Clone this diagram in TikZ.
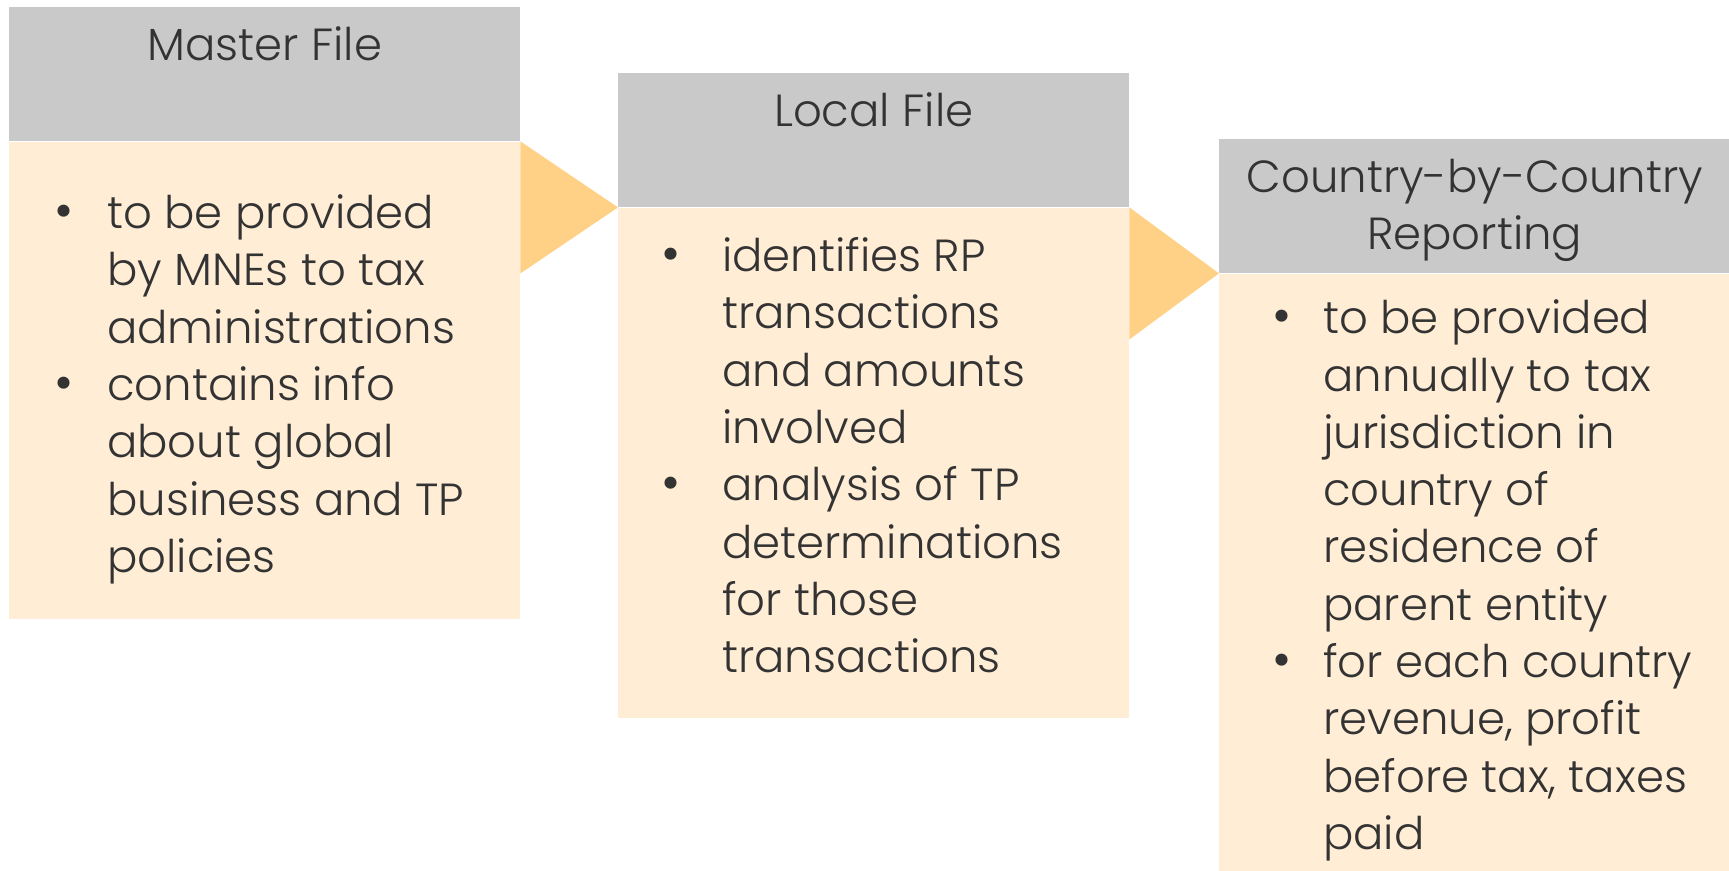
\documentclass[tikz,border=0pt]{standalone}
\usepackage{fontspec}
\setmainfont{Poppins}[UprightFont=* Light]
\usepackage{tikz}
\usetikzlibrary{positioning}

\definecolor{headgray}{RGB}{201,201,201}
\definecolor{bodycream}{RGB}{255,237,213}
\definecolor{chevorange}{RGB}{255,209,134}
\definecolor{inkgray}{RGB}{51,51,51}

\newcommand{\dotmark}{{\fontsize{52}{57.3}\selectfont\textbullet}}

\tikzset{
  headbox/.style={fill=headgray, minimum width=511pt, minimum height=134pt, inner sep=0pt, anchor=north west},
  bodybox/.style={fill=bodycream, minimum width=511pt, inner sep=0pt, anchor=north},
  title/.style={text=inkgray, inner sep=0pt, font=\fontsize{45}{57.3}\selectfont},
  points/.style={text=inkgray, inner sep=0pt, anchor=west, font=\fontsize{45}{57.3}\selectfont},
  chevron/.style={fill=chevorange}
}

\begin{document}
\begin{tikzpicture}[x=1pt, y=1pt]
    \useasboundingbox (0,0) rectangle (1729,-870);

    % the three files
    \node[headbox] (mhead) at (9,-7) {};
    \node[bodybox, minimum height=477pt] (mbody) at (mhead.south) {};
    \node[headbox] (lhead) at (618,-73) {};
    \node[bodybox, minimum height=510pt] (lbody) at (lhead.south) {};
    \node[headbox] (chead) at (1219,-139) {};
    \node[bodybox, minimum height=597pt] (cbody) at (chead.south) {};

    % chevrons between them
    \fill[chevron] (mhead.south east) -- (lhead.south west) -- ([yshift=-132pt]mhead.south east) -- cycle;
    \fill[chevron] (lhead.south east) -- (chead.south west) -- ([yshift=-132pt]lhead.south east) -- cycle;

    % titles
    \node[title, below=53pt of mhead.north, anchor=base] (mtitle) {Master File};
    \node[title, below=53pt of lhead.north, anchor=base] (ltitle) {Local File};
    \node[title, below=53pt of chead.north, anchor=base] (ctitle)
        {\begin{tabular}[t]{@{}c@{}}Country-by-Country\\Reporting\end{tabular}};

    % bullet points
    \node[points, right=45pt of mbody.west, anchor=west, yshift=-9pt] (mtext)
        {\begin{tabular}{@{}p{53pt}@{}l@{}}
        \dotmark & to be provided\\
                 & by MNEs to tax\\
                 & administrations\\
        \dotmark & contains info\\
                 & about global\\
                 & business and TP\\
                 & policies
        \end{tabular}};
    \node[points, right=43pt of lbody.west, anchor=west, yshift=2pt] (ltext)
        {\begin{tabular}{@{}p{61pt}@{}l@{}}
        \dotmark & identifies RP\\
                 & transactions\\
                 & and amounts\\
                 & involved\\
        \dotmark & analysis of TP\\
                 & determinations\\
                 & for those\\
                 & transactions
        \end{tabular}};
    \node[points, right=53pt of cbody.west, anchor=west, yshift=-8pt] (ctext)
        {\begin{tabular}{@{}p{51pt}@{}l@{}}
        \dotmark & to be provided\\
                 & annually to tax\\
                 & jurisdiction in\\
                 & country of\\
                 & residence of\\
                 & parent entity\\
        \dotmark & for each country\\
                 & revenue, profit\\
                 & before tax, taxes\\
                 & paid
        \end{tabular}};
\end{tikzpicture}
\end{document}
